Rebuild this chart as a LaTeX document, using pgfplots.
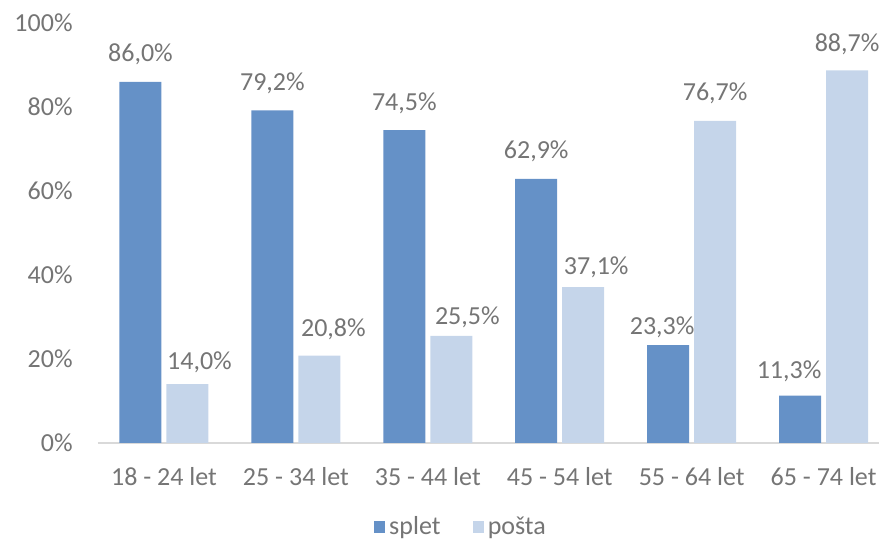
\documentclass[border=0pt]{standalone}
\usepackage{pgfplots}
\usepackage{pgfplotstable}
\pgfplotsset{compat=1.18}
\usepackage{fontspec}
\setmainfont{Carlito}
\definecolor{splet}{HTML}{6591C7}
\definecolor{posta}{HTML}{C5D5EA}
\definecolor{txt}{HTML}{757575}
\definecolor{axl}{HTML}{D9D9D9}
\pgfplotstableread{
x y dx dy
0 86.0 0 10
1 79.2 0 10
2 74.5 0 10
3 62.9 0 10
4 23.3 -3 5.5
5 11.3 -5.5 8.5
}\splettab
\pgfplotstableread{
x y dx dy
0 14.0 6 7.5
1 20.8 7 9.5
2 25.5 8 5.5
3 37.1 6.5 6.5
4 76.7 0 10
5 88.7 0 9.5
}\postatab
\begin{document}
\begin{tikzpicture}
\useasboundingbox (0,0) rectangle (439.5pt,274.5pt);
\begin{axis}[
  at={(49pt,53pt)}, anchor=south west,
  scale only axis,
  width=390.5pt, height=210pt,
  ybar, bar width=21pt,
  ymin=0, ymax=100,
  xmin=-0.5, xmax=5.42,
  xtick={0,1,2,3,4,5},
  xticklabels={18 - 24 let,25 - 34 let,35 - 44 let,45 - 54 let,55 - 64 let,65 - 74 let},
  ytick={0,20,40,60,80,100},
  yticklabels={0\%,20\%,40\%,60\%,80\%,100\%},
  major tick length=0pt,
  axis lines*=left,
  y axis line style={draw=none},
  x axis line style={draw=axl, line width=1pt, -},
  ticklabel style={font=\fontsize{13}{15}\selectfont, text=txt},
  xticklabel style={anchor=base, inner sep=0pt, yshift=-21.5pt},
  yticklabel style={anchor=east, inner sep=0pt, xshift=-12.5pt},
  legend columns=2,
  legend style={draw=none, at={(0.466,-0.2)}, anchor=center, font=\fontsize{13}{15}\selectfont, text=txt,
    /tikz/every even column/.append style={column sep=14pt}},
  legend image code/.code={\fill[#1] (0pt,-2.8pt) rectangle (5.6pt,2.8pt);},
]
\addplot[fill=splet, draw=none, bar shift=-11.75pt,
  visualization depends on={\thisrow{dx} \as \dxv},
  visualization depends on={\thisrow{dy} \as \dyv},
  nodes near coords={\pgfmathprintnumber[fixed,fixed zerofill,precision=1,use comma,assume math mode=true]{\pgfplotspointmeta}\%},
  nodes near coords style={font=\fontsize{13}{15}\selectfont, text=txt, anchor=base, inner sep=0pt, xshift={\dxv*1pt}, yshift={\dyv*1pt}},
  ] table[x=x, y=y] {\splettab};
\addplot[fill=posta, draw=none, bar shift=11.75pt,
  visualization depends on={\thisrow{dx} \as \dxv},
  visualization depends on={\thisrow{dy} \as \dyv},
  nodes near coords={\pgfmathprintnumber[fixed,fixed zerofill,precision=1,use comma,assume math mode=true]{\pgfplotspointmeta}\%},
  nodes near coords style={font=\fontsize{13}{15}\selectfont, text=txt, anchor=base, inner sep=0pt, xshift={\dxv*1pt}, yshift={\dyv*1pt}},
  ] table[x=x, y=y] {\postatab};
\legend{splet,pošta}
\end{axis}
\end{tikzpicture}
\end{document}
